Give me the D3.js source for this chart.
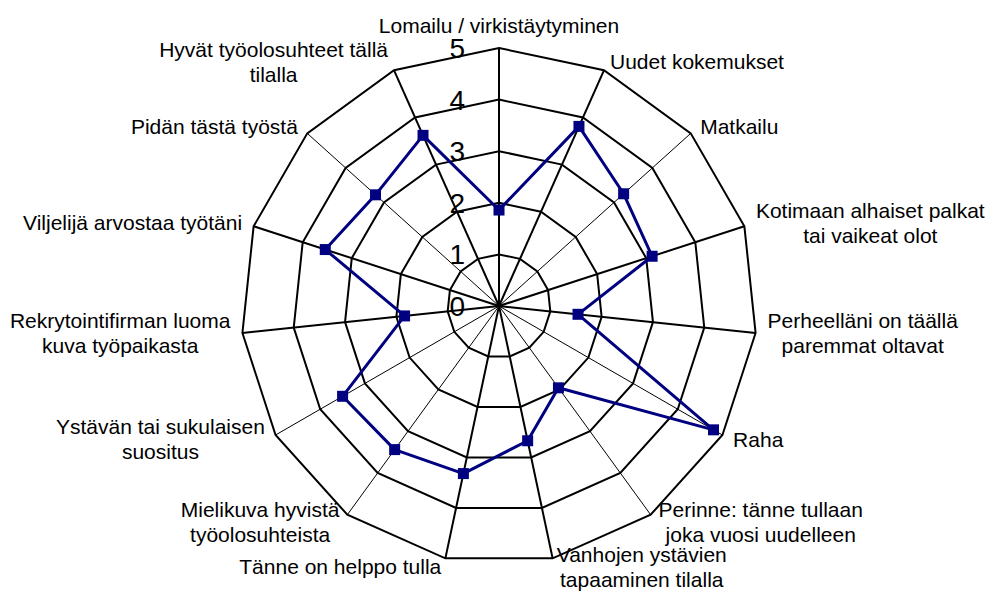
<!DOCTYPE html>
<html>
<head>
<meta charset="utf-8">
<script src="https://d3js.org/d3.v7.min.js"></script>
<style>
    html, body { margin: 0; padding: 0; background: white; }
    #viz_canvas { width: 990px; height: 592px; }
    text { font-family: "Liberation Sans", Arial, sans-serif; fill: black; }
</style>
</head>
<body>
<div id="viz_canvas"></div>
<script>
"use strict";

var categories = [
    "Lomailu / virkistäytyminen",
    "Uudet kokemukset",
    "Matkailu",
    "Kotimaan alhaiset palkat\ntai vaikeat olot",
    "Perheelläni on täällä\nparemmat oltavat",
    "Raha",
    "Perinne: tänne tullaan\njoka vuosi uudelleen",
    "Vanhojen ystävien\ntapaaminen tilalla",
    "Tänne on helppo tulla",
    "Mielikuva hyvistä\ntyöolosuhteista",
    "Ystävän tai sukulaisen\nsuositus",
    "Rekrytointifirman luoma\nkuva työpaikasta",
    "Viljelijä arvostaa työtäni",
    "Pidän tästä työstä",
    "Hyvät työolosuhteet tällä\ntilalla"
];
var values = [1.86, 3.81, 3.25, 3.12, 1.54, 4.8, 1.96, 2.67, 3.32, 3.44, 3.5, 1.84, 3.54, 3.22, 3.62];
var tickValues = [0, 1, 2, 3, 4, 5];
// spokes that Excel drew with a thin pen
var thinSpokes = [2, 5, 6, 9, 10, 13];

var width = 990, height = 592;
var cx = 499, cy = 306, outerRadius = 258;

var svg = d3.select("#viz_canvas").append("svg")
    .attr("width", width)
    .attr("height", height);

var r = d3.scaleLinear().domain([0, 5]).range([0, outerRadius]);
var angle = d3.scaleLinear().domain([0, categories.length]).range([0, 2 * Math.PI]);

function point(i, v) {
    var a = angle(i);
    return [cx + r(v) * Math.sin(a), cy - r(v) * Math.cos(a)];
}

var grid = svg.append("g").attr("class", "grid");

// rings
grid.selectAll("polygon")
    .data(tickValues.filter(t => t > 0))
    .enter().append("polygon")
    .attr("points", t => categories.map((c, i) => point(i, t).join(",")).join(" "))
    .attr("fill", "none")
    .attr("stroke", "black")
    .attr("stroke-width", 2)
    .attr("stroke-linejoin", "miter");

// spokes
grid.selectAll("line")
    .data(categories)
    .enter().append("line")
    .attr("x1", cx)
    .attr("y1", cy)
    .attr("x2", (d, i) => point(i, 5)[0])
    .attr("y2", (d, i) => point(i, 5)[1])
    .attr("stroke", "black")
    .attr("stroke-width", (d, i) => thinSpokes.indexOf(i) > -1 ? 1 : 2);

// value axis labels
svg.append("g")
    .attr("class", "ticks")
    .selectAll("text")
    .data(tickValues)
    .enter().append("text")
    .attr("x", cx - 34)
    .attr("y", t => cy - r(t))
    .attr("dy", "0.36em")
    .attr("text-anchor", "end")
    .style("font-size", "28px")
    .text(t => t);

// category labels
var labels = svg.append("g").attr("class", "labels")
    .selectAll("text")
    .data(categories)
    .enter().append("text")
    .style("font-size", "21px")
    .attr("text-anchor", "middle");

labels.each(function (d, i) {
    var lines = d.split("\n");
    var text = d3.select(this);
    lines.forEach(l => text.append("tspan").attr("x", 0).text(l));
    var w = d3.max(text.selectAll("tspan").nodes(), n => n.getComputedTextLength());
    var a = angle(i);
    var s = Math.sin(a), c = Math.cos(a);
    var v = point(i, 5);
    var bx, by;
    if (Math.abs(s) < 0.05) {
        bx = v[0];
        by = v[1] - (lines.length * 25 / 2 + 10);
    } else {
        var gap = 2 + 10 * Math.abs(s);
        bx = v[0] + Math.sign(s) * (gap + w / 2);
        by = v[1] - 9 * c;
    }
    text.attr("transform", "translate(" + [bx, by] + ")");
    text.selectAll("tspan")
        .attr("y", (t, k) => (k - (lines.length - 1) / 2) * 25 + 7);
});

// series
var series = svg.append("g").attr("class", "series");

series.append("path")
    .datum(values)
    .attr("d", d3.line()
        .x((v, i) => point(i, v)[0])
        .y((v, i) => point(i, v)[1])
        .curve(d3.curveLinearClosed))
    .attr("fill", "none")
    .attr("stroke", "#000080")
    .attr("stroke-width", 3)
    .attr("stroke-linejoin", "round");

series.selectAll("rect")
    .data(values)
    .enter().append("rect")
    .attr("x", (v, i) => point(i, v)[0] - 5.5)
    .attr("y", (v, i) => point(i, v)[1] - 5.5)
    .attr("width", 11)
    .attr("height", 11)
    .attr("fill", "#000080");
</script>
</body>
</html>
